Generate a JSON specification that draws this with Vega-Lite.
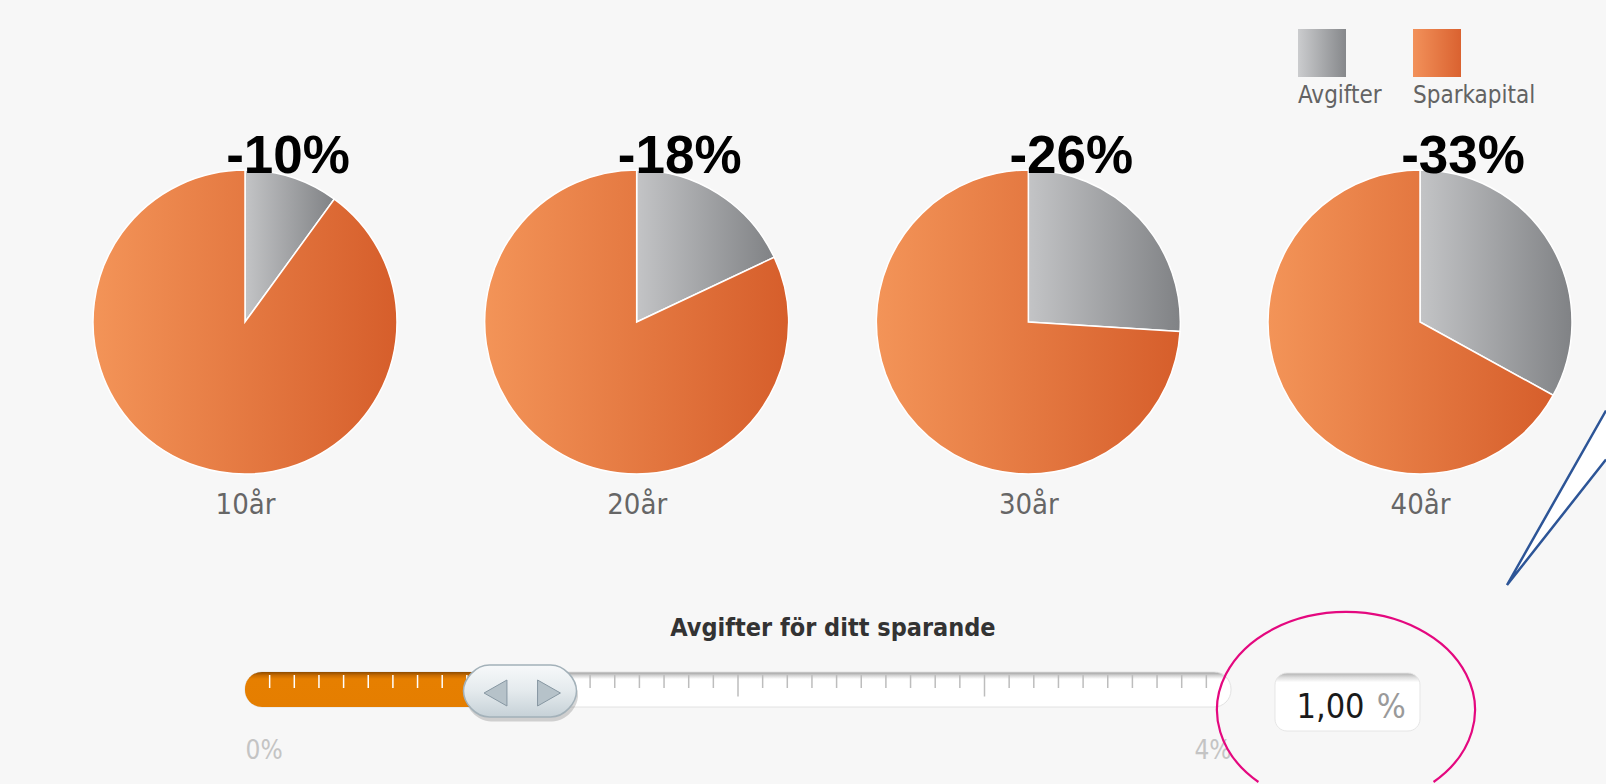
{
  "$schema": "https://vega.github.io/schema/vega-lite/v6.json",
  "background": "#f7f7f7",
  "padding": {"left": 90, "top": 29, "right": 0, "bottom": 0},
  "bounds": "flush",
  "spacing": 198,
  "config": {
    "view": {"stroke": null},
    "axis": {"grid": false},
    "locale": {"number": {"decimal": ",", "thousands": " ", "grouping": [3], "currency": ["", " kr"], "minus": "-"}}
  },
  "datasets": {
    "pies": [
      {"period": "10år", "del": "Avgifter", "andel": 10},
      {"period": "10år", "del": "Sparkapital", "andel": 90},
      {"period": "20år", "del": "Avgifter", "andel": 18},
      {"period": "20år", "del": "Sparkapital", "andel": 82},
      {"period": "30år", "del": "Avgifter", "andel": 26},
      {"period": "30år", "del": "Sparkapital", "andel": 74},
      {"period": "40år", "del": "Avgifter", "andel": 33},
      {"period": "40år", "del": "Sparkapital", "andel": 67}
    ],
    "drops": [
      {"period": "10år", "minskning": -0.10},
      {"period": "20år", "minskning": -0.18},
      {"period": "30år", "minskning": -0.26},
      {"period": "40år", "minskning": -0.33}
    ],
    "slider": [
      {"label": "Avgifter för ditt sparande", "min": 0, "value": 1, "max": 4}
    ],
    "ticks": [
      {"t": 0.1}, {"t": 0.2}, {"t": 0.3}, {"t": 0.4}, {"t": 0.5}, {"t": 0.6}, {"t": 0.7}, {"t": 0.8}, {"t": 0.9}, {"t": 1},
      {"t": 1.1}, {"t": 1.2}, {"t": 1.3}, {"t": 1.4}, {"t": 1.5}, {"t": 1.6}, {"t": 1.7}, {"t": 1.8}, {"t": 1.9}, {"t": 2},
      {"t": 2.1}, {"t": 2.2}, {"t": 2.3}, {"t": 2.4}, {"t": 2.5}, {"t": 2.6}, {"t": 2.7}, {"t": 2.8}, {"t": 2.9}, {"t": 3},
      {"t": 3.1}, {"t": 3.2}, {"t": 3.3}, {"t": 3.4}, {"t": 3.5}, {"t": 3.6}, {"t": 3.7}, {"t": 3.8}, {"t": 3.9}
    ]
  },
  "vconcat": [
    {
      "width": 1175,
      "height": 304,
      "layer": [
        {
          "data": {"name": "pies"},
          "mark": {"type": "rule", "opacity": 0, "strokeWidth": 0},
          "encoding": {
            "x": {"field": "period", "type": "ordinal", "scale": {"type": "point", "padding": 0},
              "axis": {"title": null, "ticks": false, "domain": false, "labelAngle": 0, "labelPadding": 39, "labelBaseline": "alphabetic",
                "labelFont": "DejaVu Sans Condensed, Liberation Sans Narrow, DejaVu Sans, sans-serif", "labelFontSize": 29, "labelColor": "#666666"}},
            "color": {
              "field": "del", "type": "nominal",
              "scale": {"domain": ["Avgifter", "Sparkapital"], "range": ["#a5a6a8", "#e77843"]},
              "legend": {
                "orient": "none", "legendX": 1053, "legendY": -141, "direction": "horizontal", "title": null,
                "symbolType": "square", "symbolSize": 2304, "symbolStrokeWidth": 0, "symbolOpacity": 1,
                "labelFont": "DejaVu Sans Condensed, Liberation Sans Narrow, DejaVu Sans, sans-serif", "labelFontSize": 24, "labelColor": "#636363",
                "labelOffset": 0, "labelBaseline": "alphabetic", "columnPadding": 31, "padding": 0,
                "encode": {
                  "symbols": {"update": {"fill": [
                    {"test": "datum.value === 'Avgifter'", "value": {"gradient": "linear", "x1": 0, "y1": 0, "x2": 1, "y2": 0, "stops": [{"offset": 0, "color": "#cbccce"}, {"offset": 1, "color": "#86888b"}]}},
                    {"value": {"gradient": "linear", "x1": 0, "y1": 0, "x2": 1, "y2": 0, "stops": [{"offset": 0, "color": "#f2915a"}, {"offset": 1, "color": "#da6230"}]}}
                  ], "strokeWidth": {"value": 0}}},
                  "labels": {"update": {"dx": {"value": -48}, "dy": {"value": 50}}}
                }
              }
            }
          }
        },
        {
          "data": {"name": "pies"},
          "transform": [{"stack": "andel", "groupby": ["period"], "sort": [{"field": "del", "order": "ascending"}], "offset": "normalize", "as": ["a0", "a1"]}],
          "mark": {"type": "arc", "radius": 152, "stroke": "#ffffff", "strokeWidth": 1.5},
          "encoding": {
            "x": {"field": "period", "type": "ordinal"},
            "theta": {"field": "a0", "type": "quantitative", "scale": {"domain": [0, 1]}, "stack": null},
            "theta2": {"field": "a1"},
            "fill": {
              "condition": {"test": "datum.del === 'Avgifter'", "value": {"gradient": "linear", "x1": 0, "y1": 0, "x2": 1, "y2": 0, "stops": [{"offset": 0, "color": "#c3c4c6"}, {"offset": 1, "color": "#808285"}]}},
              "value": {"gradient": "linear", "x1": 0, "y1": 0, "x2": 1, "y2": 0, "stops": [{"offset": 0, "color": "#f39458"}, {"offset": 1, "color": "#d65e2b"}]}
            }
          }
        },
        {
          "data": {"name": "drops"},
          "mark": {"type": "text", "font": "Liberation Sans, Arial, sans-serif", "fontSize": 53, "fontWeight": "bold", "color": "#000000", "dx": 43, "dy": -149, "baseline": "alphabetic"},
          "encoding": {
            "x": {"field": "period", "type": "ordinal"},
            "text": {"field": "minskning", "type": "quantitative", "format": ".0%"}
          }
        }
      ]
    },
    {
      "width": 986,
      "height": 35,
      "layer": [
        {
          "data": {"name": "slider"},
          "mark": {"type": "rect", "cornerRadius": 17, "stroke": "#e2e2e2", "strokeWidth": 1,
            "fill": {"gradient": "linear", "x1": 0, "y1": 0, "x2": 0, "y2": 1, "stops": [{"offset": 0, "color": "#9a9a9a"}, {"offset": 0.1, "color": "#d4d4d4"}, {"offset": 0.2, "color": "#ffffff"}, {"offset": 1, "color": "#ffffff"}]}},
          "encoding": {
            "x": {"field": "min", "type": "quantitative", "scale": {"domain": [0, 4], "nice": false},
              "axis": {"title": null, "values": [0, 4], "labelExpr": "datum.value + '%'", "labelFlush": true, "ticks": false, "domain": false,
                "labelPadding": 51, "labelBaseline": "alphabetic", "labelFont": "DejaVu Sans Condensed, Liberation Sans Narrow, DejaVu Sans, sans-serif", "labelFontSize": 26, "labelColor": "#c4c4c4"}},
            "x2": {"field": "max"}
          }
        },
        {
          "data": {"name": "slider"},
          "mark": {"type": "rect", "cornerRadius": 17,
            "fill": {"gradient": "linear", "x1": 0, "y1": 0, "x2": 0, "y2": 1, "stops": [{"offset": 0, "color": "#8e4c00"}, {"offset": 0.1, "color": "#c96c00"}, {"offset": 0.2, "color": "#e67f00"}, {"offset": 1, "color": "#e57e00"}]}},
          "encoding": {"x": {"field": "min", "type": "quantitative", "title": null}, "x2": {"field": "value"}}
        },
        {
          "data": {"name": "ticks"},
          "transform": [{"filter": "datum.t % 1 !== 0"}],
          "mark": {"type": "tick", "size": 13, "thickness": 1.5, "yOffset": -8, "opacity": 1},
          "encoding": {
            "x": {"field": "t", "type": "quantitative", "title": null},
            "color": {"condition": {"test": "datum.t < 1", "value": "#ffffff"}, "value": "#bdbdbd"}
          }
        },
        {
          "data": {"name": "ticks"},
          "transform": [{"filter": "datum.t % 1 === 0"}],
          "mark": {"type": "tick", "size": 22, "thickness": 1.5, "yOffset": -4, "opacity": 1},
          "encoding": {
            "x": {"field": "t", "type": "quantitative", "title": null},
            "color": {"condition": {"test": "datum.t < 1", "value": "#ffffff"}, "value": "#bdbdbd"}
          }
        },
        {
          "data": {"name": "slider"},
          "mark": {"type": "point", "filled": true, "opacity": 0.16, "fill": "#000000", "strokeWidth": 0, "size": 12769, "xOffset": 30, "yOffset": 6,
            "shape": "M -0.5398 -0.4602 L 0.5398 -0.4602 C 0.794 -0.4602 1 -0.206 1 0 C 1 0.206 0.794 0.4602 0.5398 0.4602 L -0.5398 0.4602 C -0.794 0.4602 -1 0.206 -1 0 C -1 -0.206 -0.794 -0.4602 -0.5398 -0.4602 Z"},
          "encoding": {"x": {"field": "value", "type": "quantitative", "title": null}}
        },
        {
          "data": {"name": "slider"},
          "mark": {"type": "point", "filled": true, "opacity": 1, "stroke": "#a3b1b9", "strokeWidth": 1.5, "size": 12769, "xOffset": 28.5, "yOffset": 1.5,
            "fill": {"gradient": "linear", "x1": 0, "y1": 0, "x2": 0, "y2": 1, "stops": [{"offset": 0, "color": "#f7f9fa"}, {"offset": 0.5, "color": "#e4eaed"}, {"offset": 1, "color": "#c6d1d7"}]},
            "shape": "M -0.5398 -0.4602 L 0.5398 -0.4602 C 0.794 -0.4602 1 -0.206 1 0 C 1 0.206 0.794 0.4602 0.5398 0.4602 L -0.5398 0.4602 C -0.794 0.4602 -1 0.206 -1 0 C -1 -0.206 -0.794 -0.4602 -0.5398 -0.4602 Z"},
          "encoding": {"x": {"field": "value", "type": "quantitative", "title": null}}
        },
        {
          "data": {"name": "slider"},
          "mark": {"type": "point", "filled": true, "opacity": 1, "fill": "#b6c2c9", "stroke": "#8797a2", "strokeWidth": 1, "size": 676, "xOffset": 4, "yOffset": 3.5,
            "shape": "M -0.88 0 L 0.88 -1 L 0.88 1 Z"},
          "encoding": {"x": {"field": "value", "type": "quantitative", "title": null}}
        },
        {
          "data": {"name": "slider"},
          "mark": {"type": "point", "filled": true, "opacity": 1, "fill": "#b6c2c9", "stroke": "#8797a2", "strokeWidth": 1, "size": 676, "xOffset": 57.5, "yOffset": 3.5,
            "shape": "M 0.88 0 L -0.88 -1 L -0.88 1 Z"},
          "encoding": {"x": {"field": "value", "type": "quantitative", "title": null}}
        },
        {
          "data": {"name": "slider"},
          "mark": {"type": "text", "font": "DejaVu Sans Condensed, Liberation Sans Narrow, DejaVu Sans, sans-serif", "fontSize": 25, "fontWeight": "bold", "color": "#333333", "dy": -53.5, "baseline": "alphabetic"},
          "encoding": {"x": {"datum": 2.385, "type": "quantitative"}, "text": {"field": "label", "type": "nominal"}}
        },
        {
          "data": {"name": "slider"},
          "mark": {"type": "point", "filled": true, "opacity": 1, "stroke": "#e6e6e6", "strokeWidth": 1, "size": 21025, "yOffset": 12.5,
            "fill": {"gradient": "linear", "x1": 0, "y1": 0, "x2": 0, "y2": 1, "stops": [{"offset": 0, "color": "#b0b0b0"}, {"offset": 0.08, "color": "#e0e0e0"}, {"offset": 0.16, "color": "#ffffff"}, {"offset": 1, "color": "#ffffff"}]},
            "shape": "M -0.8345 -0.4 L 0.8345 -0.4 C 0.9259 -0.4 1 -0.3259 1 -0.2345 L 1 0.2345 C 1 0.3259 0.9259 0.4 0.8345 0.4 L -0.8345 0.4 C -0.9259 0.4 -1 0.3259 -1 0.2345 L -1 -0.2345 C -1 -0.3259 -0.9259 -0.4 -0.8345 -0.4 Z"},
          "encoding": {"x": {"datum": 4.4726, "type": "quantitative"}}
        },
        {
          "data": {"name": "slider"},
          "mark": {"type": "text", "font": "DejaVu Sans Condensed, Liberation Sans Narrow, DejaVu Sans, sans-serif", "fontSize": 34, "color": "#1a1a1a", "dy": 28.5, "baseline": "alphabetic"},
          "encoding": {"x": {"datum": 4.4037, "type": "quantitative"}, "text": {"field": "value", "type": "quantitative", "format": ".2f"}}
        },
        {
          "data": {"name": "slider"},
          "mark": {"type": "text", "font": "DejaVu Sans Condensed, Liberation Sans Narrow, DejaVu Sans, sans-serif", "fontSize": 34, "color": "#9a9a9a", "dy": 28.5, "baseline": "alphabetic"},
          "encoding": {"x": {"datum": 4.65, "type": "quantitative"}, "text": {"value": "%"}}
        },
        {
          "data": {"name": "slider"},
          "mark": {"type": "point", "filled": false, "opacity": 1, "stroke": "#e4087f", "strokeWidth": 2.2, "size": 66564, "yOffset": 20.5,
            "shape": "M -0.6787 0.5581 C -0.981 0.3458 -1.0813 0.0144 -0.9313 -0.2769 C -0.7813 -0.5683 -0.4117 -0.76 0 -0.76 C 0.4117 -0.76 0.7813 -0.5683 0.9313 -0.2769 C 1.0813 0.0144 0.981 0.3458 0.6787 0.5581"},
          "encoding": {"x": {"datum": 4.4665, "type": "quantitative"}}
        },
        {
          "data": {"name": "slider"},
          "mark": {"type": "point", "filled": true, "opacity": 1, "fill": "#ffffff", "stroke": "#2d5597", "strokeWidth": 2.5, "size": 129600, "yOffset": -104.5,
            "shape": "M 0.55 -0.9694 L 0 0 L 0.55 -0.697"},
          "encoding": {"x": {"datum": 5.1197, "type": "quantitative"}}
        }
      ]
    }
  ]
}
